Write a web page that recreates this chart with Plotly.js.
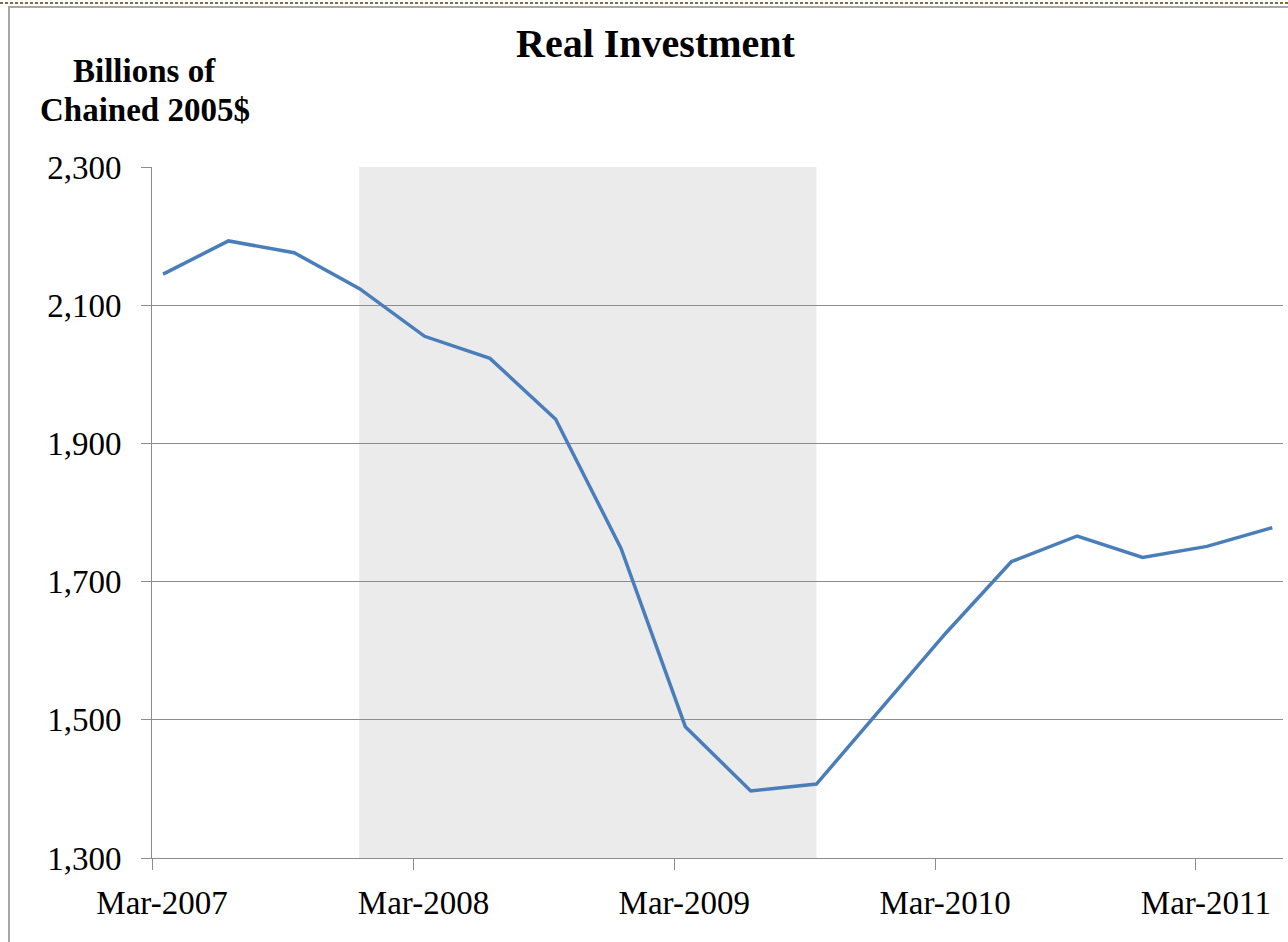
<!DOCTYPE html>
<html>
<head>
<meta charset="utf-8">
<script src="https://cdn.plot.ly/plotly-3.0.1.min.js"></script>
<style>
  html, body { margin: 0; padding: 0; background: #ffffff; }
  #chart { position: absolute; left: 0; top: 0; width: 1288px; height: 942px; }
  #frame { position: absolute; left: 8px; top: 6px; width: 1300px; height: 960px;
           border-left: 2px solid #a8a8a8; border-top: 2px solid #a8a8a8; pointer-events: none; }
  #dots { position: absolute; left: 0; top: 2px; width: 1288px; height: 2px; pointer-events: none;
          background: repeating-linear-gradient(90deg, #8a6a3a 0px, #8a6a3a 3px, transparent 3px, transparent 5px); }
</style>
</head>
<body>
<div id="chart"></div>
<div id="frame"></div>
<div id="dots"></div>
<script>
// Quarterly observations (month of quarter)
var quarters = ['2007-03','2007-06','2007-09','2007-12','2008-03','2008-06','2008-09','2008-12',
                '2009-03','2009-06','2009-09','2009-12','2010-03','2010-06','2010-09','2010-12',
                '2011-03','2011-06'];
// Real investment, billions of chained 2005 dollars
var investment = [2145, 2193, 2176, 2124, 2055, 2023, 1935, 1748,
                  1490, 1397, 1407, 1518, 1626, 1729, 1766, 1735,
                  1751, 1778];
// Shaded recession period
var recessionStart = '2007-12-16';
var recessionEnd = '2009-09-16';
// Axis ticks
var xTickDates = ['2007-03-01','2008-03-01','2009-03-01','2010-03-01','2011-03-01'];
var xTickLabels = ['Mar-2007','Mar-2008','Mar-2009','Mar-2010','Mar-2011'];
var yTicks = [1300, 1500, 1700, 1900, 2100, 2300];

var serif = 'Liberation Serif, Times New Roman, serif';

var trace = {
  x: quarters,
  y: investment,
  xperiod: 'M1',
  xperiodalignment: 'middle',
  type: 'scatter',
  mode: 'lines',
  line: { color: '#4a7ebb', width: 3.5 },
  hoverinfo: 'x+y'
};

var layout = {
  width: 1288,
  height: 942,
  margin: { l: 152, r: 5, t: 167, b: 84 },
  paper_bgcolor: 'rgba(0,0,0,0)',
  plot_bgcolor: 'rgba(0,0,0,0)',
  showlegend: false,
  font: { family: serif, color: '#000000', size: 33 },
  xaxis: {
    type: 'date',
    range: ['2007-03-01', '2011-07-01'],
    tickmode: 'array',
    tickvals: xTickDates,
    ticktext: xTickLabels,
    ticks: 'outside',
    ticklen: 11,
    tickwidth: 1,
    tickcolor: '#8c8c8c',
    showline: true,
    linecolor: '#8c8c8c',
    linewidth: 1,
    showgrid: false,
    zeroline: false,
    ticklabelshift: 10,
    ticklabelstandoff: 4,
    tickfont: { family: serif, size: 33, color: '#000000' }
  },
  yaxis: {
    range: [1300, 2300],
    tickmode: 'array',
    tickvals: yTicks,
    tickformat: ',d',
    ticks: 'outside',
    ticklen: 10,
    tickwidth: 1,
    tickcolor: '#8c8c8c',
    showline: true,
    linecolor: '#8c8c8c',
    linewidth: 1,
    showgrid: true,
    gridcolor: '#8c8c8c',
    gridwidth: 1,
    zeroline: false,
    ticklabelstandoff: 13,
    tickfont: { family: serif, size: 33, color: '#000000' }
  },
  shapes: [{
    type: 'rect',
    xref: 'x', yref: 'paper',
    x0: recessionStart, x1: recessionEnd,
    y0: 0, y1: 1,
    fillcolor: '#ebebeb',
    line: { width: 0 },
    layer: 'below'
  }],
  annotations: [
    {
      text: '<b>Real Investment</b>',
      xref: 'paper', yref: 'paper',
      x: 0.4456, y: 1.1783,
      xanchor: 'center', yanchor: 'middle',
      showarrow: false,
      font: { family: serif, size: 40, color: '#000000' }
    },
    {
      text: '<b>Billions of</b>',
      xref: 'paper', yref: 'paper',
      x: -0.0066, y: 1.1395,
      xanchor: 'center', yanchor: 'middle',
      showarrow: false,
      font: { family: serif, size: 33, color: '#000000' }
    },
    {
      text: '<b>Chained 2005$</b>',
      xref: 'paper', yref: 'paper',
      x: -0.0066, y: 1.0831,
      xanchor: 'center', yanchor: 'middle',
      showarrow: false,
      font: { family: serif, size: 33, color: '#000000' }
    }
  ]
};

Plotly.newPlot('chart', [trace], layout, { displayModeBar: false, staticPlot: true });
</script>
</body>
</html>
